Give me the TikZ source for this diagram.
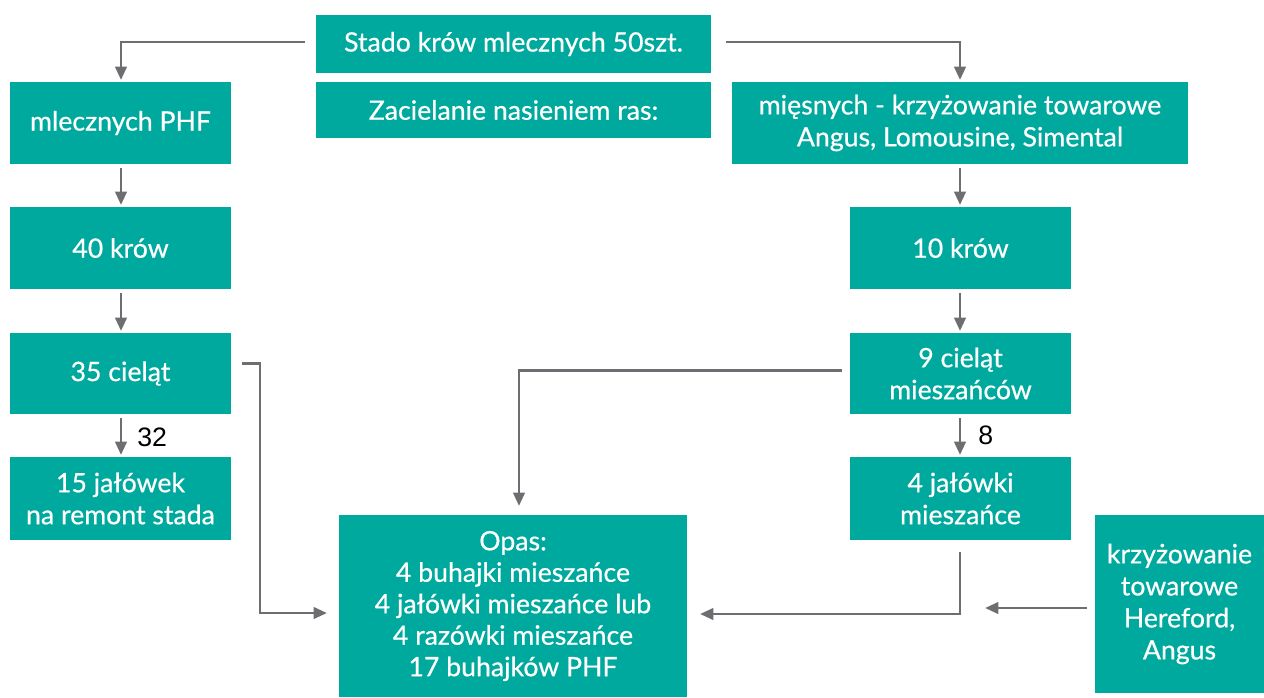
\documentclass[tikz,border=0pt]{standalone}
\usepackage{fontspec}
\setmainfont{Lato}[FakeBold=0.6]
\newfontfamily\numfont{Liberation Sans}
\usetikzlibrary{calc,arrows.meta}
\definecolor{teal1}{HTML}{00A99D}
\definecolor{gray1}{HTML}{6D6E71}
\tikzset{
  box/.style 2 args={fill=teal1, text=white, inner sep=0pt, outer sep=0pt, align=center,
    minimum width=#1*0.75pt, minimum height=#2*0.75pt,
    font=\fontsize{20}{24}\selectfont},
  arr/.style={draw=gray1, line width=2.2pt, -{Triangle[length=10pt,width=8.5pt]}},
  num/.style={text=black, inner sep=0pt, anchor=west, font=\numfont\fontsize{20}{22}\selectfont}
}
\begin{document}
\begin{tikzpicture}[x=0.75pt,y=-0.75pt]
\useasboundingbox (0,0) rectangle (1264,697);
\node[box={395}{58}] (stado) at (513.5,44) {Stado krów mlecznych 50szt.};
\node[box={395}{56}] (zac) at (513.5,110) {Zacielanie nasieniem ras:};
\node[box={221}{82}] (mlecz) at (120.5,123) {mlecznych PHF};
\node[box={456}{82}] (mies) at (960,123) {mięsnych - krzyżowanie towarowe\\Angus, Lomousine, Simental};
\node[box={221}{82}] (k40) at (120.5,248) {40 krów};
\node[box={221}{82}] (k10) at (960.5,248) {10 krów};
\node[box={221}{81}] (c35) at (120.5,373.5) {35 cieląt};
\node[box={221}{81}] (c9) at (960.5,373.5) {9 cieląt\\mieszańców};
\node[box={221}{83}] (j15) at (120.5,498.5) {15 jałówek\\na remont stada};
\node[box={221}{83}] (j4) at (960.5,498.5) {4 jałówki\\mieszańce};
\node[box={348}{182}, font=\fontsize{20}{23.6}\selectfont] (opas) at (513,606) {Opas:\\4 buhajki mieszańce\\4 jałówki mieszańce lub\\4 razówki mieszańce\\17 buhajków PHF};
\node[box={169}{178}] (krz) at (1179.5,604) {krzyżowanie\\towarowe\\Hereford,\\Angus};
\node[num] (n32) at (137,437) {32};
\node[num] (n8) at (978,435) {8};

\draw[arr] ($(stado.west)+(-11,-2)$) -| ($(mlecz.north)+(0.5,-2)$);
\draw[arr] ($(stado.east)+(15,-2)$) -| ($(mies.north)+(0,-2)$);
\draw[arr] ($(mlecz.south)+(0.5,4)$) -- ($(k40.north)+(0.5,-2)$);
\draw[arr] ($(k40.south)+(0.5,4)$) -- ($(c35.north)+(0.5,-2)$);
\draw[arr] ($(c35.south)+(0.5,4)$) -- ($(j15.north)+(0.5,-2)$);
\draw[arr] ($(mies.south)+(0,4)$) -- ($(k10.north)+(-0.5,-2)$);
\draw[arr] ($(k10.south)+(-0.5,4)$) -- ($(c9.north)+(-0.5,-2)$);
\draw[arr] ($(c9.south)+(-0.5,4)$) -- ($(j4.north)+(-0.5,-2)$);
\draw[arr] ($(c35.east)+(11,-10)$) -- ++(18,0) |- ($(opas.west)+(-12,7)$);
\draw[arr] ($(c9.west)+(-8,-3)$) -| ($(opas.north)+(6,-9)$);
\draw[arr] ($(j4.south)+(-0.5,12)$) |- ($(opas.east)+(13,8)$);
\draw[arr] ($(krz.west)+(-8,4)$) -- ++(-102,0);
\end{tikzpicture}
\end{document}
